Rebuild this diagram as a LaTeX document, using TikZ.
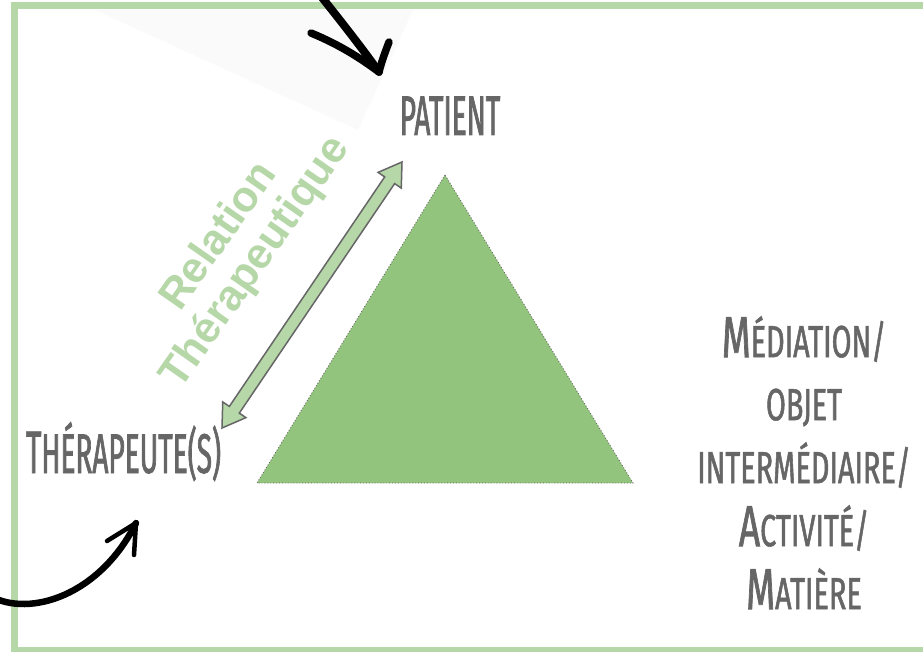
\documentclass[tikz,border=0pt]{standalone}
\usepackage{fontspec}
\usetikzlibrary{calc}

\newfontfamily\handfont[FakeStretch=0.5, FakeBold=1.2]{Fira Sans}
\newfontfamily\handwide[FakeStretch=0.64, FakeBold=1.2]{Fira Sans}
\newfontfamily\relfont{Liberation Sans}

\definecolor{framegreen}{HTML}{B6D7A8}
\definecolor{trigreen}{HTML}{93C47D}
\definecolor{textgray}{HTML}{666666}

% capital at full size, the rest as small capitals
\newcommand{\capbig}[2]{{\fontsize{58}{63}\selectfont #1}\MakeUppercase{#2}}
\newcommand{\capsmall}[1]{\MakeUppercase{#1}}

\begin{document}
\begin{tikzpicture}[x=1pt, y=-1pt,
    hand/.style={text=textgray, inner sep=0pt},
    brush/.style={line width=6.5pt, line cap=round, line join=round},
    relarrow/.style={fill=framegreen, draw=black!60, line width=1.5pt, line join=miter}]

    \useasboundingbox (0,0) rectangle (923,652);

    % faint shade behind the top arrow
    \fill[black!2] (95,10) -- (413,10) -- (358,130) -- cycle;

    % frame
    \draw[framegreen, line width=7pt] (14.5,6) rectangle (945,650);

    % triangle
    \coordinate (top) at (445,175);
    \coordinate (left) at (257,483);
    \coordinate (right) at (633,483);
    \fill[trigreen] (top) -- (left) -- (right) -- cycle;
    \draw[black!60, dotted, line width=0.9pt] (top) -- (left) -- (right) -- cycle;

    % labels
    \node[hand, anchor=base, font={\handfont\fontsize{56}{56}\selectfont}] (patient) at (450,135) {PATIENT};
    \node[hand, anchor=base, font={\handfont\fontsize{56}{56}\selectfont}] (therap) at (123.5,473)
        {{\fontsize{60}{60}\selectfont T}\MakeUppercase{hérapeute(s)}};
    \node[hand, anchor=north, align=center, font={\handwide\fontsize{45}{63}\selectfont}] (mediation) at (804,316)
        {\capbig{M}{édiation/}\\\capsmall{objet}\\\capsmall{intermédiaire/}\\\capbig{A}{ctivité/}\\\capbig{M}{atière}};

    % therapeutic relation
    \coordinate (ra) at (222,428);
    \coordinate (rb) at (402,162);
    \coordinate (ha) at ($(ra)!22pt!(rb)$);
    \coordinate (hb) at ($(rb)!22pt!(ra)$);
    \draw[relarrow] (ra) -- ($(ha)!14pt!90:(rb)$) -- ($(ha)!6pt!90:(rb)$) -- ($(hb)!6pt!-90:(ra)$)
        -- ($(hb)!14pt!-90:(ra)$) -- (rb) -- ($(hb)!14pt!90:(ra)$) -- ($(hb)!6pt!90:(ra)$)
        -- ($(ha)!6pt!-90:(rb)$) -- ($(ha)!14pt!-90:(rb)$) -- cycle;
    \node[rotate=55, align=center, text=framegreen, inner sep=0pt,
        font={\relfont\bfseries\fontsize{43}{45}\selectfont}] (relation) at (238,250) {Relation\\Thérapeutique};

    % black arrows
    \coordinate (pin) at (316,-10);
    \coordinate (ptip) at (379,72);
    \draw[brush, line width=8pt] (pin) .. controls (340,20) and (362,48) .. (ptip);
    \draw[brush, line width=7.5pt] (311,33) .. controls (340,45) and (360,58) .. (ptip) .. controls (382,60) and (386,50) .. (389,42);

    \coordinate (tin) at (-10,596);
    \coordinate (ttip) at (136,523);
    \draw[brush] (tin) .. controls (30,618) and (100,595) .. (ttip);
    \draw[brush, line width=4.5pt] (107,541) -- (ttip) -- (134,555);

\end{tikzpicture}
\end{document}
